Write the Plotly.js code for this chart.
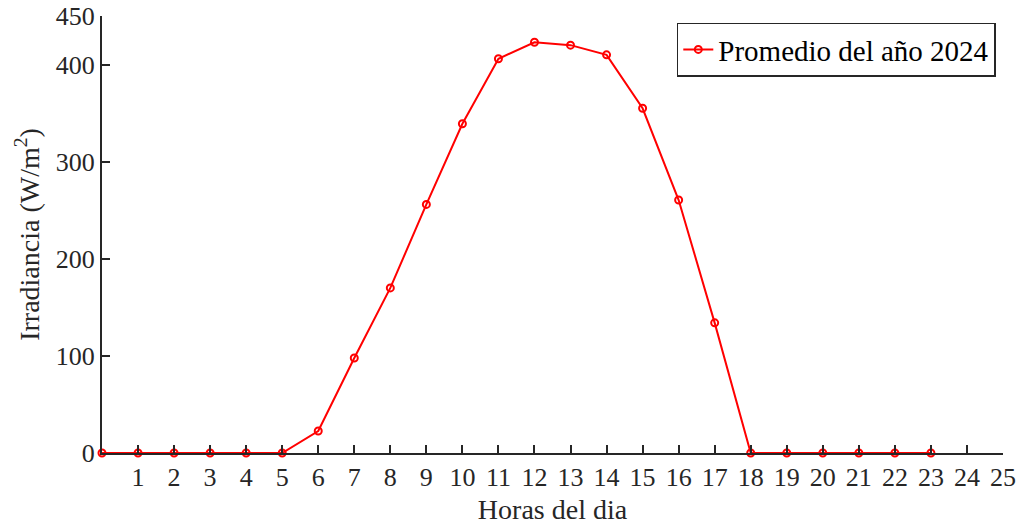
<!DOCTYPE html>
<html><head><meta charset="utf-8">
<script src="https://cdn.plot.ly/plotly-3.0.1.min.js"></script>
<style>body{margin:0;padding:0;background:#fff}#chart{width:1023px;height:528px}</style>
</head><body><div id="chart"></div>
<script>
const hours = [0,1,2,3,4,5,6,7,8,9,10,11,12,13,14,15,16,17,18,19,20,21,22,23];
const irradiance = [0,0,0,0,0,0,22.6,97.8,170,256,339,406,423,420,410,355,260.5,134,0,0,0,0,0,0];
const xTicks = [1,2,3,4,5,6,7,8,9,10,11,12,13,14,15,16,17,18,19,20,21,22,23,24,25];
const yTicks = [0,100,200,300,400,450];
const seriesName = 'Promedio del año 2024';

const fam = 'Liberation Serif, Times New Roman, serif';
Plotly.newPlot('chart', [{
  x: hours, y: irradiance, name: seriesName, type: 'scatter', mode: 'lines+markers',
  line: {color: '#ff0000', width: 2},
  marker: {symbol: 'circle-open', size: 7, color: '#ff0000', line: {width: 2}},
  cliponaxis: false
}], {
  width: 1023, height: 528,
  margin: {l: 102, r: 20, t: 16, b: 75},
  paper_bgcolor: '#fff', plot_bgcolor: '#fff',
  font: {family: fam, size: 26, color: '#262626'},
  showlegend: true,
  legend: {x: 0.992, y: 0.985, xanchor: 'right', yanchor: 'top', bgcolor: '#fff',
    bordercolor: '#262626', borderwidth: 1.5, font: {family: fam, size: 29, color: '#000'},
    itemwidth: 30, tracegroupgap: 0},
  xaxis: {range: [0, 25], tickvals: xTicks, ticktext: xTicks.map(String), ticks: 'inside', ticklen: 8, tickwidth: 2,
    tickcolor: '#262626', showline: true, linecolor: '#262626', linewidth: 2, showgrid: false, zeroline: false,
    tickfont: {family: fam, size: 26, color: '#262626'},
    title: {text: 'Horas del dia', font: {family: fam, size: 28, color: '#262626'}, standoff: 8}},
  yaxis: {range: [0, 450], tickvals: yTicks, ticktext: yTicks.map(String), ticks: 'inside', ticklen: 8, tickwidth: 2,
    tickcolor: '#262626', showline: true, linecolor: '#262626', linewidth: 2, showgrid: false, zeroline: false,
    tickfont: {family: fam, size: 26, color: '#262626'},
    title: {text: 'Irradiancia (W/m<sup>2</sup>)', font: {family: fam, size: 28, color: '#262626'}, standoff: 8}}
}, {displayModeBar: false, staticPlot: true});
</script></body></html>
